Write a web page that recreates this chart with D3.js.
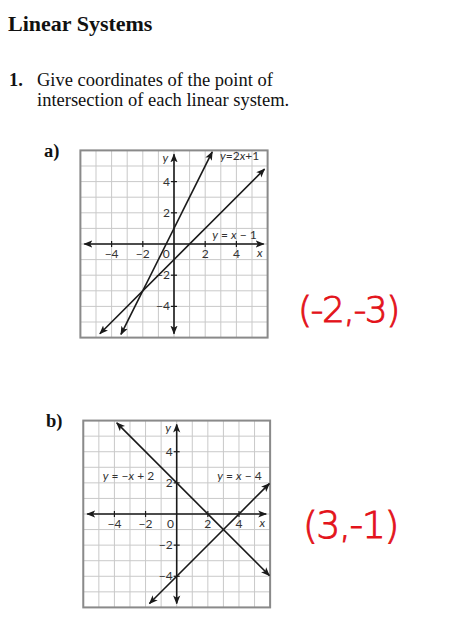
<!DOCTYPE html>
<html><head><meta charset="utf-8">
<script src="https://cdn.jsdelivr.net/npm/d3@7"></script>
<style>
html,body{margin:0;padding:0;background:#fff;}
svg{display:block;}
</style></head>
<body>
<script>
// ---- data ----
const title = "Linear Systems";
const questionLines = ["Give coordinates of the point of", "intersection of each linear system."];
const panels = ["a)", "b)"];
const gridRange = [-6, 6];
const axisExtent = [-5.75, 5.75];
const xTickValues = [-4, -2, 2, 4];
const yTickValues = [-4, -2, 2, 4];
const xTickLabels = ["\u22124", "\u22122", "2", "4"];
const yTickLabels = ["\u22124", "\u22122", "2", "4"];
// lines: slope, intercept, x-start, x-end (arrow ends)
const linesA = [
  {m: 2, b: 1, x0: -3.4, x1: 2.45},
  {m: 1, b: -1, x0: -4.75, x1: 5.8}
];
const linesB = [
  {m: -1, b: 2, x0: -3.85, x1: 5.95},
  {m: 1, b: -4, x0: -1.75, x1: 5.95}
];
const labelsA = [
  {parts: [["y", 1], ["=2", 0], ["x", 1], ["+1", 0]], x: 2.95, y: 5.4},
  {parts: [["y", 1], [" = ", 0], ["x", 1], [" \u2212 1", 0]], x: 2.45, y: 0.35}
];
const labelsB = [
  {parts: [["y", 1], [" = \u2212", 0], ["x", 1], [" + 2", 0]], x: -4.75, y: 2.2},
  {parts: [["y", 1], [" = ", 0], ["x", 1], [" \u2212 4", 0]], x: 2.6, y: 2.2}
];
const answers = ["(-2,-3)", "(3,-1)"];

const W = 476, H = 630;
const svg = d3.select("body").append("svg").attr("width", W).attr("height", H);

const defs = svg.append("defs");
defs.append("marker").attr("id", "arr").attr("viewBox", "0 0 10 10")
  .attr("refX", 9).attr("refY", 5).attr("markerWidth", 9).attr("markerHeight", 9)
  .attr("markerUnits", "userSpaceOnUse").attr("orient", "auto-start-reverse")
  .append("path").attr("d", "M0,1 L10,5 L0,9 L2.5,5 Z").attr("fill", "#1a1a1a");

// ---- header text ----
const serif = "'Liberation Serif','Times New Roman',serif";
svg.append("text").attr("x", 8).attr("y", 31).attr("font-family", serif)
  .attr("font-weight", "bold").attr("font-size", 22).attr("fill", "#111").text(title);
svg.append("text").attr("x", 9).attr("y", 86).attr("font-family", serif)
  .attr("font-weight", "bold").attr("font-size", 18.5).attr("fill", "#111").text("1.");
questionLines.forEach((t, i) => {
  svg.append("text").attr("x", 37).attr("y", 86 + i * 20).attr("font-family", serif)
    .attr("font-size", 18.5).attr("fill", "#111").text(t);
});

// ---- graph drawing ----
function drawGraph(cx, cy, unit, lines, labels, zeroOffset) {
  const x = d3.scaleLinear().domain([-1, 1]).range([cx - unit, cx + unit]);
  const y = d3.scaleLinear().domain([-1, 1]).range([cy + unit, cy - unit]);
  const g = svg.append("g");
  const gv = d3.range(gridRange[0], gridRange[1] + 1);
  g.selectAll(".gx").data(gv).join("line")
    .attr("x1", d => x(d)).attr("x2", d => x(d))
    .attr("y1", y(gridRange[0])).attr("y2", y(gridRange[1]))
    .attr("stroke", "#c9c9c9").attr("stroke-width", 1);
  g.selectAll(".gy").data(gv).join("line")
    .attr("y1", d => y(d)).attr("y2", d => y(d))
    .attr("x1", x(gridRange[0])).attr("x2", x(gridRange[1]))
    .attr("stroke", "#c9c9c9").attr("stroke-width", 1);
  g.append("rect").attr("x", x(gridRange[0])).attr("y", y(gridRange[1]))
    .attr("width", x(gridRange[1]) - x(gridRange[0])).attr("height", y(gridRange[0]) - y(gridRange[1]))
    .attr("fill", "none").attr("stroke", "#8a8a8a").attr("stroke-width", 2);

  // axes
  g.append("line").attr("x1", x(axisExtent[0])).attr("x2", x(axisExtent[1]))
    .attr("y1", y(0)).attr("y2", y(0)).attr("stroke", "#1a1a1a").attr("stroke-width", 1.6)
    .attr("marker-start", "url(#arr)").attr("marker-end", "url(#arr)");
  g.append("line").attr("y1", y(axisExtent[0])).attr("y2", y(axisExtent[1]))
    .attr("x1", x(0)).attr("x2", x(0)).attr("stroke", "#1a1a1a").attr("stroke-width", 1.6)
    .attr("marker-start", "url(#arr)").attr("marker-end", "url(#arr)");

  const sans = "Lato,'DejaVu Sans',sans-serif";
  const lc = "#333";
  const fs = 12;
  // ticks
  g.selectAll(".tx").data(xTickValues).join("line")
    .attr("x1", d => x(d)).attr("x2", d => x(d)).attr("y1", y(0) - 3).attr("y2", y(0) + 3)
    .attr("stroke", "#1a1a1a").attr("stroke-width", 1.2);
  g.selectAll(".ty").data(yTickValues).join("line")
    .attr("y1", d => y(d)).attr("y2", d => y(d)).attr("x1", x(0) - 3).attr("x2", x(0) + 3)
    .attr("stroke", "#1a1a1a").attr("stroke-width", 1.2);
  g.selectAll(".lx").data(xTickValues).join("text")
    .attr("x", d => x(d)).attr("y", y(0) + 14).attr("text-anchor", "middle")
    .attr("font-family", sans).attr("font-size", fs).attr("fill", lc)
    .text((d, i) => xTickLabels[i]);
  g.selectAll(".ly").data(yTickValues).join("text")
    .attr("x", x(0) - 4).attr("y", d => y(d) + 4).attr("text-anchor", "end")
    .attr("font-family", sans).attr("font-size", fs).attr("fill", lc)
    .text((d, i) => yTickLabels[i]);
  g.append("text").attr("x", x(zeroOffset)).attr("y", y(0) + 14).attr("text-anchor", "middle")
    .attr("font-family", sans).attr("font-size", fs).attr("fill", lc).text("0");
  g.append("text").attr("x", x(5.5)).attr("y", y(0) + 13).attr("text-anchor", "middle")
    .attr("font-family", sans).attr("font-style", "italic").attr("font-size", fs).attr("fill", lc).text("x");
  g.append("text").attr("x", x(-0.55)).attr("y", y(5.5) + 4).attr("text-anchor", "middle")
    .attr("font-family", sans).attr("font-style", "italic").attr("font-size", fs).attr("fill", lc).text("y");

  // lines
  g.selectAll(".ln").data(lines).join("line")
    .attr("x1", d => x(d.x0)).attr("y1", d => y(d.m * d.x0 + d.b))
    .attr("x2", d => x(d.x1)).attr("y2", d => y(d.m * d.x1 + d.b))
    .attr("stroke", "#1a1a1a").attr("stroke-width", 1.6)
    .attr("marker-start", "url(#arr)").attr("marker-end", "url(#arr)");

  // equation labels
  labels.forEach(L => {
    const t = g.append("text").attr("x", x(L.x)).attr("y", y(L.y))
      .attr("font-family", sans).attr("font-size", fs).attr("fill", lc);
    L.parts.forEach(p => t.append("tspan").attr("font-style", p[1] ? "italic" : "normal").text(p[0]));
  });
}

svg.append("text").attr("x", 44).attr("y", 157).attr("font-family", serif)
  .attr("font-weight", "bold").attr("font-size", 18.5).attr("fill", "#111").text(panels[0]);
svg.append("text").attr("x", 46).attr("y", 427).attr("font-family", serif)
  .attr("font-weight", "bold").attr("font-size", 18.5).attr("fill", "#111").text(panels[1]);

drawGraph(174, 244, 15.6, linesA, labelsA, -0.5);
drawGraph(176.7, 514, 15.57, linesB, labelsB, -0.4);

// handwritten answers
const hand = "'DejaVu Sans',sans-serif";
svg.append("text").attr("x", 298).attr("y", 322).attr("font-family", hand)
  .attr("font-size", 36).attr("font-weight", 300).attr("letter-spacing", -1.5)
  .attr("fill", "#e3131b").attr("stroke", "#e3131b").attr("stroke-width", 0.9).text(answers[0]);
svg.append("text").attr("x", 303).attr("y", 538).attr("font-family", hand)
  .attr("font-size", 38).attr("font-weight", 300).attr("letter-spacing", -1.5)
  .attr("fill", "#e3131b").attr("stroke", "#e3131b").attr("stroke-width", 0.9).text(answers[1]);
</script>
</body></html>
